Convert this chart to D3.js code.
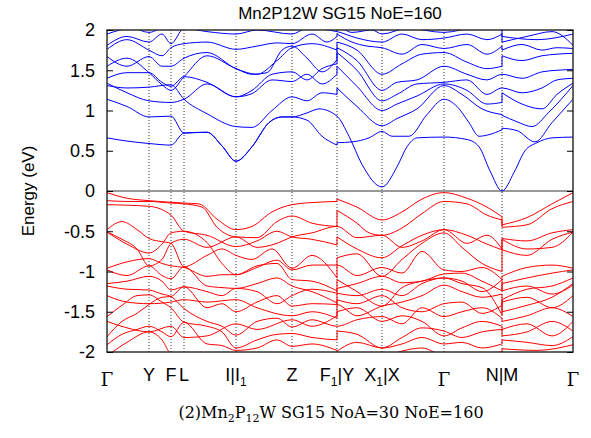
<!DOCTYPE html>
<html>
<head>
<meta charset="utf-8">
<script src="https://cdn.jsdelivr.net/npm/d3@7"></script>
<style>
  body { margin: 0; background: #fff; }
  svg { display: block; }
</style>
</head>
<body>
<div id="chart"></div>
<script>
// high symmetry points along the path (k distance)
const kTicks = [0, 0.42, 0.64, 0.77, 1.29, 1.85, 2.30, 2.75, 3.37, 3.95, 4.66];
const kLabels = ["Γ", "Y", "F", "L", "I|I₁", "Z", "F₁|Y", "X₁|X", "Γ", "N|M", "Γ"];
const yTicks = [-2, -1.5, -1, -0.5, 0, 0.5, 1, 1.5, 2];

// conduction bands [k, E]
const condBands = [
  [[0,0.66],[0.2,0.62],[0.42,0.59],[0.64,0.57],[0.77,0.72],[1.0,0.73],[1.15,0.56],[1.29,0.37],[1.45,0.55],[1.62,0.85],[1.75,0.92],[1.85,0.92],[2.0,0.88],[2.15,0.68],[2.30,0.57],[2.30,0.60],[2.45,0.61],[2.62,0.66],[2.75,0.74],[2.85,0.68],[3.02,0.68],[3.2,0.95],[3.37,1.14],[3.5,1.05],[3.62,0.85],[3.72,0.68],[3.82,0.70],[3.95,0.76],[3.95,0.78],[4.1,0.75],[4.28,0.61],[4.45,0.85],[4.66,1.14]],
  [[0,1.14],[0.2,1.05],[0.42,0.92],[0.64,0.93],[0.77,0.72],[1.0,0.73],[1.15,0.56],[1.29,0.37],[1.45,0.55],[1.62,0.85],[1.75,0.92],[1.85,0.92],[2.0,0.97],[2.12,1.02],[2.30,0.93],[2.42,0.68],[2.55,0.33],[2.75,0.05],[2.9,0.30],[3.0,0.55],[3.1,0.66],[3.37,0.67],[3.6,0.64],[3.72,0.55],[3.83,0.25],[3.95,0.0],[4.07,0.23],[4.18,0.50],[4.30,0.60],[4.45,0.66],[4.66,0.67]],
  [[0,1.31],[0.2,1.28],[0.42,1.29],[0.64,1.32],[0.77,1.14],[1.0,0.96],[1.29,0.80],[1.45,0.79],[1.65,1.0],[1.85,1.17],[2.0,1.12],[2.15,1.22],[2.30,1.20],[2.30,1.28],[2.5,1.05],[2.75,0.81],[2.9,0.90],[3.1,1.02],[3.37,1.31],[3.55,1.20],[3.75,1.02],[3.95,0.95],[3.95,0.94],[4.1,0.86],[4.25,0.80],[4.42,0.98],[4.66,1.31]],
  [[0,1.34],[0.2,1.22],[0.42,1.12],[0.64,1.10],[0.77,1.14],[1.0,1.33],[1.29,1.17],[1.45,1.21],[1.65,1.38],[1.85,1.36],[2.0,1.45],[2.15,1.33],[2.30,1.45],[2.30,1.55],[2.5,1.30],[2.75,1.00],[2.9,1.08],[3.1,1.18],[3.37,1.33],[3.6,1.25],[3.8,1.08],[3.95,1.10],[3.95,1.22],[4.15,1.08],[4.35,1.02],[4.5,1.20],[4.66,1.34]],
  [[0,1.40],[0.2,1.47],[0.42,1.47],[0.55,1.35],[0.64,1.30],[0.77,1.42],[1.0,1.35],[1.29,1.17],[1.45,1.25],[1.65,1.45],[1.85,1.48],[2.0,1.38],[2.15,1.52],[2.30,1.58],[2.30,1.72],[2.5,1.50],[2.75,1.12],[2.9,1.20],[3.1,1.33],[3.37,1.35],[3.6,1.38],[3.8,1.20],[3.95,1.28],[4.15,1.22],[4.35,1.28],[4.5,1.38],[4.66,1.40]],
  [[0,1.55],[0.2,1.65],[0.42,1.47],[0.55,1.32],[0.64,1.25],[0.77,1.42],[1.0,1.68],[1.29,1.52],[1.45,1.45],[1.6,1.47],[1.75,1.75],[1.85,1.80],[2.0,1.65],[2.15,1.48],[2.30,1.63],[2.30,1.78],[2.5,1.62],[2.75,1.25],[2.9,1.35],[3.1,1.38],[3.37,1.55],[3.6,1.45],[3.8,1.38],[3.95,1.45],[4.15,1.40],[4.35,1.48],[4.5,1.50],[4.66,1.51]],
  [[0,1.67],[0.2,1.55],[0.42,1.67],[0.55,1.55],[0.64,1.55],[0.77,1.65],[1.0,1.72],[1.29,1.52],[1.5,1.45],[1.7,1.62],[1.85,1.78],[2.05,1.83],[2.30,1.75],[2.30,1.85],[2.5,1.75],[2.75,1.45],[2.95,1.58],[3.15,1.70],[3.37,1.72],[3.6,1.60],[3.8,1.52],[3.95,1.55],[3.95,1.68],[4.15,1.62],[4.35,1.68],[4.5,1.70],[4.66,1.71]],
  [[0,1.76],[0.2,1.88],[0.42,1.75],[0.55,1.68],[0.64,1.78],[0.77,1.83],[1.0,1.85],[1.29,1.76],[1.5,1.80],[1.7,1.84],[1.85,1.83],[2.05,1.95],[2.20,1.85],[2.30,1.92],[2.30,1.95],[2.45,1.85],[2.6,1.80],[2.75,1.78],[2.95,1.70],[3.15,1.82],[3.37,1.77],[3.6,1.82],[3.8,1.70],[3.95,1.80],[3.95,1.75],[4.15,1.82],[4.35,1.75],[4.5,1.78],[4.66,1.77]],
  [[0,1.81],[0.2,1.92],[0.42,1.85],[0.55,1.95],[0.64,1.83],[0.77,2.02],[1.0,1.98],[1.29,1.95],[1.5,2.0],[1.85,1.95],[2.0,2.02],[2.30,1.98],[2.5,1.90],[2.75,1.85],[2.95,1.95],[3.15,1.88],[3.37,1.90],[3.6,1.95],[3.8,1.88],[3.95,1.95],[3.95,1.85],[4.2,1.92],[4.45,1.98],[4.66,1.81]],
  [[0,1.95],[0.25,2.02],[0.42,1.97],[0.6,2.05],[1.5,2.1],[2.30,2.05],[2.45,1.97],[2.65,2.0],[2.75,1.95],[3.0,2.02],[3.37,1.97],[3.7,2.03],[3.95,2.0],[3.95,1.92],[4.3,1.88],[4.66,1.95]]
];

// valence bands [k, E]
const valBands = [
  [[0,-0.02],[0.2,-0.09],[0.42,-0.12],[0.64,-0.14],[0.77,-0.15],[0.92,-0.16],[1.1,-0.35],[1.29,-0.48],[1.45,-0.44],[1.65,-0.26],[1.85,-0.17],[2.1,-0.14],[2.30,-0.13],[2.30,-0.10],[2.5,-0.20],[2.75,-0.36],[2.95,-0.26],[3.15,-0.10],[3.37,-0.02],[3.6,-0.09],[3.8,-0.20],[3.95,-0.32],[3.95,-0.42],[4.2,-0.33],[4.45,-0.16],[4.66,-0.02]],
  [[0,-0.12],[0.2,-0.13],[0.42,-0.13],[0.64,-0.15],[0.77,-0.16],[0.95,-0.20],[1.1,-0.45],[1.29,-0.57],[1.5,-0.58],[1.7,-0.38],[1.85,-0.31],[2.05,-0.40],[2.30,-0.44],[2.30,-0.24],[2.5,-0.40],[2.62,-0.52],[2.75,-0.55],[2.95,-0.46],[3.15,-0.28],[3.37,-0.13],[3.6,-0.16],[3.8,-0.30],[3.95,-0.36],[3.95,-0.45],[4.2,-0.42],[4.45,-0.22],[4.66,-0.13]],
  [[0,-0.17],[0.42,-0.19],[0.64,-0.30],[0.77,-0.50],[1.0,-0.55],[1.29,-0.69],[1.5,-0.62],[1.7,-0.50],[1.85,-0.57],[2.05,-0.60],[2.30,-0.67],[2.30,-0.57],[2.5,-0.72],[2.75,-0.83],[2.95,-0.68],[3.15,-0.55],[3.37,-0.48],[3.6,-0.55],[3.8,-0.66],[3.95,-0.73],[3.95,-0.59],[4.2,-0.62],[4.45,-0.52],[4.66,-0.48]],
  [[0,-0.48],[0.15,-0.38],[0.3,-0.48],[0.42,-0.59],[0.55,-0.63],[0.64,-0.65],[0.77,-0.94],[1.0,-0.80],[1.15,-0.72],[1.29,-0.80],[1.45,-0.85],[1.65,-0.72],[1.85,-0.96],[2.05,-0.80],[2.30,-1.08],[2.30,-0.83],[2.5,-0.78],[2.75,-1.06],[2.95,-0.85],[3.15,-0.65],[3.37,-0.52],[3.55,-0.70],[3.75,-0.90],[3.95,-1.00],[3.95,-0.73],[4.2,-0.80],[4.45,-0.60],[4.66,-0.51]],
  [[0,-0.51],[0.2,-0.66],[0.42,-0.77],[0.55,-0.66],[0.64,-0.52],[0.77,-0.50],[1.0,-0.64],[1.15,-0.90],[1.29,-1.04],[1.5,-0.95],[1.7,-0.86],[1.85,-0.98],[2.05,-0.92],[2.30,-0.92],[2.5,-1.05],[2.75,-0.95],[2.95,-1.02],[3.15,-0.75],[3.37,-0.98],[3.55,-1.0],[3.75,-0.95],[3.95,-1.10],[3.95,-1.06],[4.2,-0.95],[4.45,-0.92],[4.66,-0.96]],
  [[0,-0.96],[0.2,-0.88],[0.42,-0.84],[0.55,-0.90],[0.64,-0.93],[0.77,-0.95],[1.0,-1.06],[1.15,-1.04],[1.29,-1.04],[1.5,-0.93],[1.7,-0.90],[1.85,-1.10],[2.05,-1.12],[2.30,-1.24],[2.30,-1.21],[2.5,-1.15],[2.75,-1.06],[2.95,-1.14],[3.15,-1.12],[3.37,-1.03],[3.55,-1.02],[3.75,-1.12],[3.95,-1.24],[3.95,-1.15],[4.2,-1.08],[4.45,-1.02],[4.66,-0.98]],
  [[0,-0.98],[0.2,-1.05],[0.42,-0.93],[0.55,-1.05],[0.64,-1.09],[0.77,-0.94],[1.0,-1.18],[1.15,-1.20],[1.29,-1.21],[1.5,-1.15],[1.7,-1.08],[1.85,-1.18],[2.05,-1.25],[2.30,-1.39],[2.30,-1.27],[2.5,-1.30],[2.75,-1.22],[2.95,-1.30],[3.15,-1.15],[3.37,-1.08],[3.55,-1.15],[3.75,-1.20],[3.95,-1.54],[3.95,-1.35],[4.2,-1.22],[4.45,-1.18],[4.66,-1.08]],
  [[0,-1.15],[0.2,-1.12],[0.42,-1.06],[0.55,-1.12],[0.64,-1.23],[0.77,-1.19],[1.0,-1.45],[1.15,-1.40],[1.29,-1.50],[1.5,-1.38],[1.7,-1.30],[1.85,-1.43],[2.05,-1.40],[2.30,-1.41],[2.5,-1.55],[2.75,-1.43],[2.95,-1.38],[3.15,-1.30],[3.37,-1.17],[3.55,-1.25],[3.75,-1.32],[3.95,-1.28],[3.95,-1.50],[4.2,-1.42],[4.45,-1.32],[4.66,-1.15]],
  [[0,-1.18],[0.2,-1.22],[0.42,-1.23],[0.55,-1.28],[0.64,-1.31],[0.77,-1.46],[1.0,-1.62],[1.15,-1.68],[1.29,-1.79],[1.5,-1.62],[1.7,-1.58],[1.85,-1.69],[2.05,-1.60],[2.30,-1.68],[2.5,-1.60],[2.75,-1.56],[2.95,-1.65],[3.15,-1.45],[3.37,-1.56],[3.55,-1.50],[3.75,-1.45],[3.95,-1.58],[3.95,-1.62],[4.2,-1.55],[4.45,-1.45],[4.66,-1.56]],
  [[0,-1.56],[0.15,-1.42],[0.3,-1.30],[0.42,-1.29],[0.55,-1.38],[0.64,-1.45],[0.77,-1.63],[1.0,-1.68],[1.15,-1.75],[1.29,-1.95],[1.5,-1.85],[1.7,-1.78],[1.85,-1.77],[2.05,-1.82],[2.30,-1.85],[2.30,-1.74],[2.5,-1.78],[2.75,-1.95],[2.95,-1.82],[3.15,-1.70],[3.37,-1.74],[3.55,-1.82],[3.75,-1.75],[3.95,-1.72],[3.95,-1.80],[4.2,-1.75],[4.45,-1.62],[4.66,-1.74]],
  [[0,-1.81],[0.15,-1.62],[0.3,-1.52],[0.42,-1.41],[0.55,-1.32],[0.64,-1.31],[0.77,-1.19],[1.0,-1.25],[1.15,-1.30],[1.29,-1.21],[1.5,-1.25],[1.7,-1.40],[1.85,-1.30],[2.05,-1.22],[2.30,-1.27],[2.30,-1.10],[2.5,-1.25],[2.75,-1.43],[2.95,-1.20],[3.15,-1.12],[3.37,-1.08],[3.55,-1.12],[3.75,-1.25],[3.95,-1.10],[3.95,-1.24],[4.2,-1.18],[4.45,-1.28],[4.66,-1.17]],
  [[0,-1.91],[0.15,-1.78],[0.3,-1.72],[0.42,-1.68],[0.55,-1.75],[0.64,-1.81],[0.77,-1.63],[1.0,-1.90],[1.15,-1.92],[1.29,-1.98],[1.5,-1.95],[1.7,-1.85],[1.85,-1.93],[2.05,-1.90],[2.30,-1.98],[2.30,-1.99],[2.5,-1.88],[2.75,-1.95],[2.95,-1.90],[3.15,-1.82],[3.37,-1.90],[3.55,-1.88],[3.75,-1.95],[3.95,-1.90],[3.95,-1.85],[4.2,-1.88],[4.45,-1.92],[4.66,-1.81]],
  [[0,-2.05],[0.2,-1.88],[0.42,-1.75],[0.55,-1.85],[0.64,-2.02],[0.77,-2.05],[1.29,-2.10],[1.85,-2.08],[2.30,-2.05],[2.5,-2.1],[2.75,-2.05],[3.15,-1.95],[3.37,-2.04],[3.95,-2.0],[3.95,-1.96],[4.3,-1.98],[4.66,-1.91]],
  [[0,-0.51],[0.15,-0.60],[0.3,-0.72],[0.42,-0.93],[0.55,-0.85],[0.64,-0.65],[0.77,-0.60],[1.0,-0.70],[1.29,-0.57],[1.5,-0.70],[1.7,-0.65],[1.85,-0.57],[2.05,-0.52],[2.30,-0.44],[2.5,-0.58],[2.75,-0.55],[2.95,-0.70],[3.15,-0.62],[3.37,-0.48],[3.6,-0.65],[3.8,-0.55],[3.95,-0.72],[3.95,-0.60],[4.2,-0.72],[4.45,-0.70],[4.66,-0.51]],
  [[0,-1.62],[0.2,-1.70],[0.42,-1.75],[0.64,-1.68],[0.77,-1.82],[1.0,-1.80],[1.29,-1.65],[1.5,-1.72],[1.85,-1.60],[2.05,-1.68],[2.30,-1.55],[2.30,-1.50],[2.5,-1.45],[2.75,-1.62],[2.95,-1.55],[3.15,-1.62],[3.37,-1.80],[3.55,-1.70],[3.75,-1.62],[3.95,-1.68],[3.95,-1.72],[4.2,-1.65],[4.45,-1.80],[4.66,-1.62]],
  [[0,-1.30],[0.2,-1.38],[0.42,-1.40],[0.64,-1.38],[0.77,-1.35],[1.0,-1.38],[1.29,-1.35],[1.5,-1.45],[1.85,-1.55],[2.05,-1.50],[2.30,-1.58],[2.30,-1.35],[2.5,-1.40],[2.75,-1.30],[2.95,-1.45],[3.15,-1.50],[3.37,-1.40],[3.55,-1.38],[3.75,-1.52],[3.95,-1.42],[3.95,-1.38],[4.2,-1.32],[4.45,-1.45],[4.66,-1.30]]
];

const margin = {top: 30, right: 18, bottom: 86, left: 107},
      width = 591 - margin.left - margin.right,
      height = 438 - margin.top - margin.bottom;

const svg = d3.select("#chart")
  .append("svg")
  .attr("width", 591)
  .attr("height", 438)
  .style("font-family", "'Liberation Sans', Arial, sans-serif");

const g = svg.append("g")
  .attr("transform", `translate(${margin.left},${margin.top})`);

const xScale = d3.scaleLinear().domain([0, 4.66]).range([0, width]);
const yScale = d3.scaleLinear().domain([-2, 2]).range([height, 0]);

g.append("defs").append("clipPath").attr("id", "clip")
  .append("rect").attr("width", width).attr("height", height);

// dotted lines at high symmetry points
g.selectAll(".kline")
  .data(kTicks.slice(1, -1))
  .enter()
  .append("line")
  .attr("x1", d => xScale(d)).attr("x2", d => xScale(d))
  .attr("y1", 0).attr("y2", height)
  .attr("stroke", "#000")
  .attr("stroke-width", 0.8)
  .attr("stroke-dasharray", "1,2");

// fermi level
g.append("line")
  .attr("x1", 0).attr("x2", width)
  .attr("y1", yScale(0)).attr("y2", yScale(0))
  .attr("stroke", "#333")
  .attr("stroke-width", 1.2);

// split a band at jumps (same k twice)
function pieces(band) {
  const runs = [], jumps = [];
  let cur = [band[0]];
  for (let i = 1; i < band.length; i++) {
    if (band[i][0] === band[i - 1][0]) {
      runs.push(cur);
      jumps.push([band[i - 1], band[i]]);
      cur = [band[i]];
    } else {
      cur.push(band[i]);
    }
  }
  runs.push(cur);
  return {runs, jumps};
}

const smooth = d3.line().x(d => xScale(d[0])).y(d => yScale(d[1])).curve(d3.curveMonotoneX);
const straight = d3.line().x(d => xScale(d[0])).y(d => yScale(d[1]));

function drawBands(bands, color) {
  const layer = g.append("g").attr("clip-path", "url(#clip)");
  bands.forEach(band => {
    const p = pieces(band);
    p.runs.forEach(r => {
      layer.append("path").attr("d", smooth(r))
        .attr("fill", "none").attr("stroke", color).attr("stroke-width", 1);
    });
    p.jumps.forEach(j => {
      layer.append("path").attr("d", straight(j))
        .attr("fill", "none").attr("stroke", color).attr("stroke-width", 1);
    });
  });
}

drawBands(condBands, "#0000ff");
drawBands(valBands, "#ff0000");

// frame
g.append("rect")
  .attr("width", width).attr("height", height)
  .attr("fill", "none").attr("stroke", "#222").attr("stroke-width", 1.4);

// y axis
const yAxis = d3.axisLeft(yScale).tickValues(yTicks).tickSize(-6).tickPadding(12)
  .tickFormat(d => String(d));
const ya = g.append("g").call(yAxis);
ya.select(".domain").remove();
ya.selectAll("text").attr("font-size", 18).attr("fill", "#000");
ya.selectAll("line").attr("stroke", "#000");

// right ticks
g.append("g").attr("transform", `translate(${width},0)`)
  .call(d3.axisRight(yScale).tickValues(yTicks).tickSize(-6).tickFormat(""))
  .call(s => s.select(".domain").remove());

// x labels
g.selectAll(".klabel")
  .data(kTicks)
  .enter()
  .append("text")
  .attr("x", (d, i) => xScale(d))
  .attr("y", height + 34)
  .attr("text-anchor", "middle")
  .attr("font-size", 18)
  .each(function(d, i) {
    const t = d3.select(this);
    const lab = kLabels[i];
    if (lab === "Γ") {
      t.text("Γ").attr("font-family", "'DejaVu Serif', serif");
    } else {
      const parts = lab.split(/(₁)/);
      parts.forEach(p => {
        if (p === "₁") t.append("tspan").text("1").attr("font-size", 12).attr("dy", 5);
        else if (p) t.append("tspan").text(p).attr("dy", t.selectAll("tspan").size() ? -5 : 0);
      });
    }
  });

// y axis label
svg.append("text")
  .attr("transform", `translate(34,${margin.top + height / 2}) rotate(-90)`)
  .attr("text-anchor", "middle")
  .attr("font-size", 17)
  .text("Energy (eV)");

// title
svg.append("text")
  .attr("x", margin.left + width / 2)
  .attr("y", 19)
  .attr("text-anchor", "middle")
  .attr("font-size", 17)
  .text("Mn2P12W SG15 NoE=160");

// caption
const cap = svg.append("text")
  .attr("x", 331)
  .attr("y", 418)
  .attr("text-anchor", "middle")
  .attr("font-family", "'DejaVu Serif', 'Liberation Serif', serif")
  .attr("font-size", 16);
cap.append("tspan").text("(2)Mn");
cap.append("tspan").text("2").attr("font-size", 11).attr("dy", 4);
cap.append("tspan").text("P").attr("dy", -4);
cap.append("tspan").text("12").attr("font-size", 11).attr("dy", 4);
cap.append("tspan").text("W SG15 NoA=30 NoE=160").attr("dy", -4);
</script>
</body>
</html>
